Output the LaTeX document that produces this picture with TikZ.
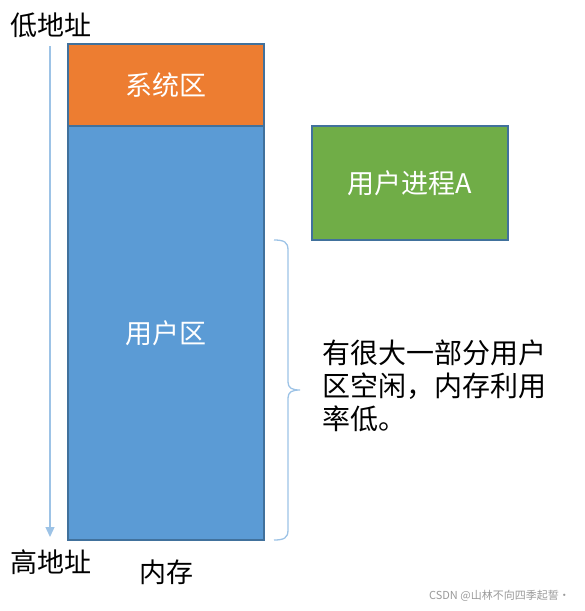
\documentclass[tikz,border=0pt]{standalone}
\usepackage{fontspec}
\setmainfont{Noto Sans CJK SC}
\usetikzlibrary{arrows.meta}
\definecolor{sysorange}{HTML}{ED7D31}
\definecolor{userblue}{HTML}{5B9BD5}
\definecolor{procgreen}{HTML}{70AD47}
\definecolor{edgeblue}{HTML}{41719C}
\definecolor{lightline}{HTML}{9DC3E6}
\definecolor{wmgray}{HTML}{999999}
\tikzset{
  block/.style={draw=edgeblue, line width=1.2pt, inner sep=0pt, text=white,
    font=\fontsize{27}{27}\selectfont},
  label/.style={inner sep=0pt, text=black, font=\fontsize{27}{27}\selectfont},
  thinline/.style={draw=lightline, line width=1.3pt}
}
\begin{document}
\begin{tikzpicture}[x=1pt,y=-1pt]
\useasboundingbox (0,0) rectangle (585,611);
\node[block, fill=sysorange, minimum width=196pt, minimum height=82pt] (sys) at (166,85) {系统区};
\node[block, fill=userblue, minimum width=196pt, minimum height=414pt] (user) at (166,333) {用户区};
\node[block, fill=procgreen, minimum width=196pt, minimum height=114pt] (proc) at (410,183) {用户进程A};
\node[label] (low) at (51,25) {低地址};
\node[label] (high) at (51,562) {高地址};
\node[label] (mem) at (166,572) {内存};
\coordinate (atop) at (50,46);
\coordinate (abot) at (50,537);
\draw[thinline, -{Triangle[width=9pt,length=10pt]}, draw=lightline, fill=lightline] (atop) -- (abot);
\coordinate (btop) at (274,240);
\coordinate (btip) at (300,390);
\coordinate (bbot) at (274,540);
\draw[thinline] (btop) .. controls (284,240) and (288,242) .. (288,250) -- (288,382)
  .. controls (288,388) and (292,390) .. (btip)
  .. controls (292,390) and (288,392) .. (288,398) -- (288,530)
  .. controls (288,538) and (284,540) .. (bbot);
\node[inner sep=0pt, anchor=north west, align=left, font=\fontsize{28}{33}\selectfont] (note) at (322,340) {有很大一部分用户\\区空闲，内存利用\\率低。};
\node[inner sep=0pt, text=wmgray, font=\fontsize{11}{11}\selectfont, anchor=east] (wm) at (570,596) {CSDN @山林不向四季起誓·};
\end{tikzpicture}
\end{document}
